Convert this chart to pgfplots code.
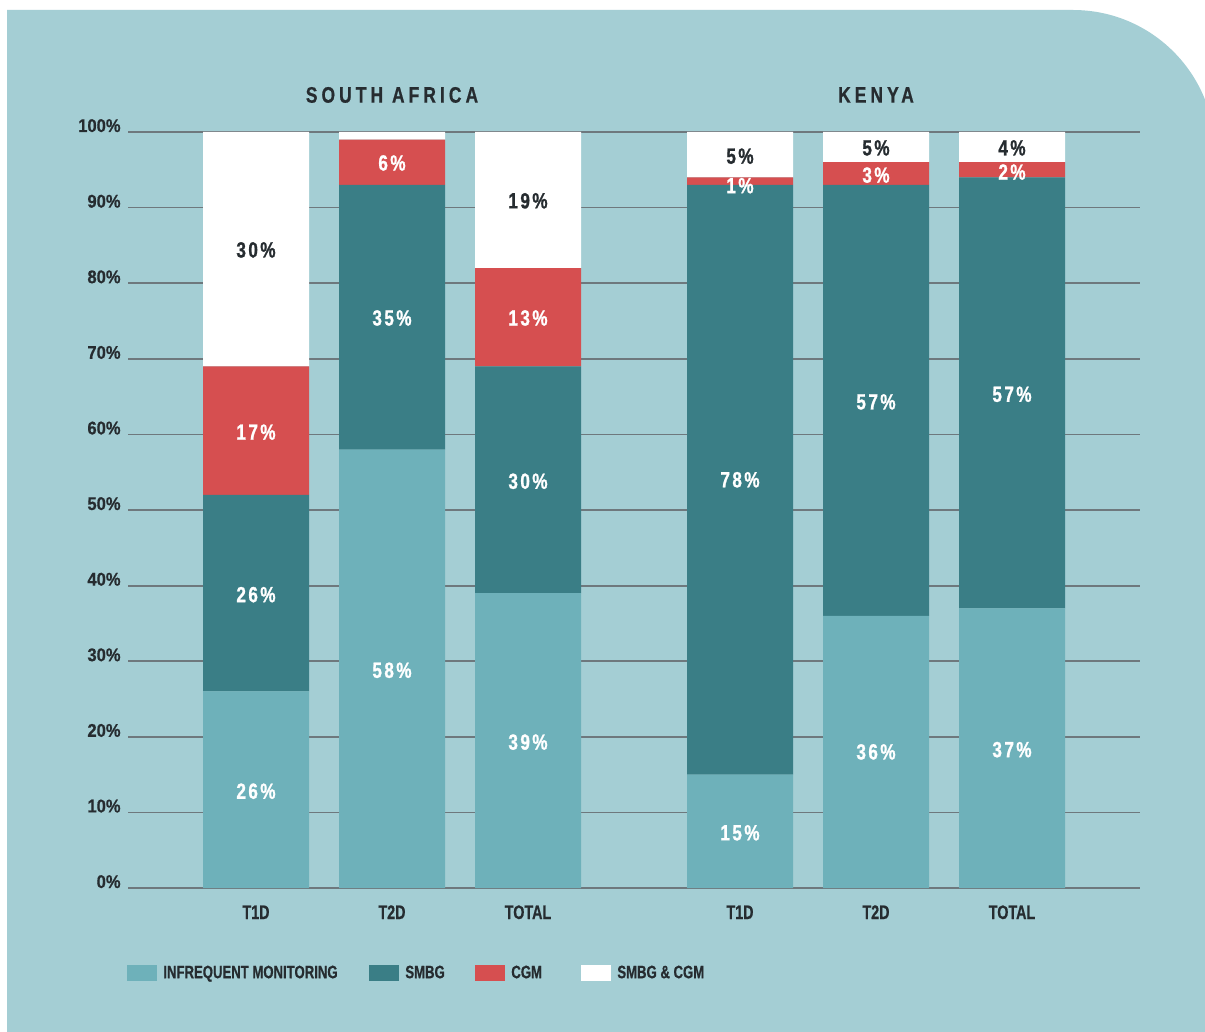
\documentclass[border=0pt]{standalone}
\usepackage{pgfplots}
\usepackage{pgfplotstable}
\pgfplotsset{compat=1.18}
\usepackage{fontspec}
\setmainfont{Liberation Sans}
\newfontfamily\tickfont{Liberation Sans}[FakeStretch=0.90, FakeBold=0.6]
\newfontfamily\condfont{Liberation Sans}[FakeStretch=0.73, FakeBold=0.6]
\newfontfamily\labfont{Liberation Sans}[FakeStretch=0.78, LetterSpace=11, FakeBold=1]
\newfontfamily\titfont{Liberation Sans}[FakeStretch=0.78, LetterSpace=18, FakeBold=0.6]

\definecolor{bg}{HTML}{A4CED4}
\definecolor{infq}{HTML}{6EB1BA}
\definecolor{smbg}{HTML}{3A7E86}
\definecolor{cgm}{HTML}{D64F50}
\definecolor{dark}{HTML}{262C30}
\definecolor{gridc}{HTML}{6E787D}

\pgfplotstableread{
x infq smbg cgm both
256 26 26 17 31
392 58 35 6 1
528 39 30 13 18
740 15 78 1 6
876 36 57 3 4
1012 37 57 2 4
}\bars

\pgfplotstableread{
x y lab
256 12.8 26\%
256 38.8 26\%
256 60.3 17\%
392 28.8 58\%
392 75.4 35\%
392 95.9 6\%
528 19.3 39\%
528 53.8 30\%
528 75.4 13\%
740 7.3 15\%
740 54.0 78\%
740 92.9 1\%
876 18.0 36\%
876 64.3 57\%
876 94.3 3\%
1012 18.3 37\%
1012 65.3 57\%
1012 94.7 2\%
}\whitelabs

\pgfplotstableread{
x y lab
256 84.4 30\%
528 90.9 19\%
740 96.8 5\%
876 97.9 5\%
1012 97.9 4\%
}\darklabs

\pgfplotsset{
  base/.style={scale only axis, width=506pt, height=378pt,
    xmin=128, xmax=1140, ymin=0, ymax=100,
    at={(64pt,-444pt)}, anchor=south west},
  sq/.style={legend image code/.code={\fill[##1] (0pt,-4pt) rectangle (15pt,4pt);}},
}

\begin{document}
\begin{tikzpicture}
\useasboundingbox (0,0) rectangle (602.5pt,-516pt);
\begin{scope}
\clip (0,0) rectangle (602.5pt,-516pt);
\fill[white] (0,0) rectangle (602.5pt,-516pt);
\fill[bg] (3.5pt,-5pt) -- (536.5pt,-5pt) arc[start angle=90,end angle=0,radius=71pt]
  -- (607.5pt,-530pt) -- (3.5pt,-530pt) -- cycle;
\end{scope}

\begin{axis}[base, ybar stacked, bar width=106,
  axis line style={draw=none}, major tick length=0pt,
  ymajorgrids, grid style={gridc, line width=0.9pt},
  ytick={0,10,...,100},
  /pgf/number format/assume math mode=true,
  yticklabel={\pgfmathprintnumber{\tick}\%},
  yticklabel style={anchor=base east, inner sep=0pt, xshift=-3.5pt,
    font=\tickfont\bfseries\fontsize{9.2}{9.2}\selectfont, text=dark},
  xtick={256,392,528,740,876,1012},
  xticklabels={T1D,T2D,TOTAL,T1D,T2D,TOTAL},
  xticklabel style={anchor=base, inner sep=0pt, yshift=-15.5pt,
    font=\condfont\bfseries\fontsize{9.8}{9.8}\selectfont, text=dark},
  legend style={at={(-0.001,-0.113)}, anchor=west, draw=none, fill=none,
    inner sep=0pt, font=\condfont\bfseries\fontsize{9}{9}\selectfont, text=dark,
    nodes={inner sep=0pt},
    /tikz/every odd column/.append style={column sep=3pt}},
  legend columns=-1,
]
\addplot[fill=infq, draw=none, sq] table[x=x,y=infq]{\bars};
\addlegendentry{\makebox[103pt][l]{INFREQUENT MONITORING}}
\addplot[fill=smbg, draw=none, sq] table[x=x,y=smbg]{\bars};
\addlegendentry{\makebox[35pt][l]{SMBG}}
\addplot[fill=cgm, draw=none, sq] table[x=x,y=cgm]{\bars};
\addlegendentry{\makebox[35pt][l]{CGM}}
\addplot[fill=white, draw=none, sq] table[x=x,y=both]{\bars};
\addlegendentry{SMBG \& CGM}
\end{axis}

\begin{axis}[base, axis lines=none, clip=false, ticks=none]
\addplot[only marks, mark=*, mark size=0pt, mark options={draw=none,fill=none},
  nodes near coords, point meta=explicit symbolic,
  nodes near coords align={center},
  every node near coord/.append style={anchor=center, inner sep=0pt,
    font=\labfont\bfseries\fontsize{11}{11}\selectfont, text=white}]
  table[x=x,y=y,meta=lab]{\whitelabs};
\addplot[only marks, mark=*, mark size=0pt, mark options={draw=none,fill=none},
  nodes near coords, point meta=explicit symbolic,
  nodes near coords align={center},
  every node near coord/.append style={anchor=center, inner sep=0pt,
    font=\labfont\bfseries\fontsize{11}{11}\selectfont, text=dark}]
  table[x=x,y=y,meta=lab]{\darklabs};
\node[font=\titfont\bfseries\fontsize{11.2}{11.2}\selectfont, text=dark, inner sep=0pt]
  at (axis cs:392,104.9) {SOUTH AFRICA};
\node[font=\titfont\bfseries\fontsize{11.2}{11.2}\selectfont, text=dark, inner sep=0pt]
  at (axis cs:876,104.9) {KENYA};
\end{axis}
\end{tikzpicture}
\end{document}
